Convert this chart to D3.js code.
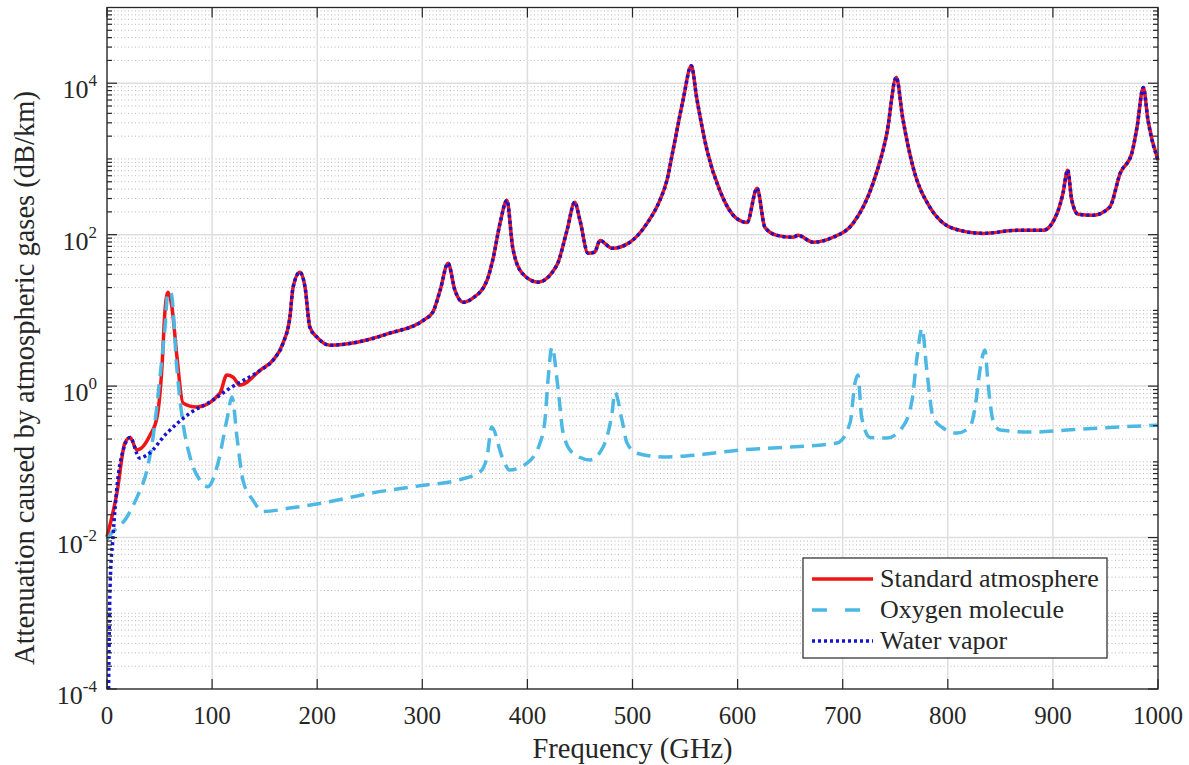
<!DOCTYPE html>
<html>
<head>
<meta charset="utf-8">
<script src="https://cdn.jsdelivr.net/npm/d3@7"></script>
<style>
  body { margin: 0; background: #fff; }
  text { font-family: "Liberation Serif", "Times New Roman", serif; fill: #262626; }
</style>
</head>
<body>
<svg id="chart" width="1189" height="765"></svg>
<script>
// Water vapor (dB/km)
const waterFreq = [1.5, 2.9, 5.7, 9.5, 15.2, 22, 31, 38, 57, 79, 98, 117, 146, 158, 167.5, 174, 177, 183.5, 188.5, 193,
  200, 212, 238, 269, 301, 310, 317, 324.5, 331, 339, 348, 361.6, 367, 374, 380.5, 386, 395, 410, 428, 437.7,
  445, 450, 457.7, 464, 469, 480.5, 497.6, 513.8, 526, 532.8, 538.5, 548, 556, 561, 571, 583, 599, 609, 618.5, 626,
  637.5, 652.7, 657.5, 671.7, 690.8, 709.8, 728.8, 742, 751, 757, 767, 783, 792.6, 805, 833.5, 866, 890.6, 904, 909.6, 914,
  918, 924, 938, 954, 964, 975, 980, 986, 990.5, 1000];
const waterVal = [1e-4, 0.0022, 0.0102, 0.047, 0.14, 0.21, 0.112, 0.123, 0.24, 0.44, 0.62, 0.94, 1.63, 2.2, 3.7, 8.1, 20, 32, 20, 6.0,
  4.4, 3.47, 3.8, 5.0, 7.4, 9.5, 18.5, 42, 18.5, 12.8, 14.5, 25, 46, 142, 284, 68, 31, 23.6, 39.5, 114,
  268, 155, 57, 58.6, 84, 66, 79.5, 141, 284, 525, 1290, 5900, 17000, 6500, 1290, 386, 164, 145, 410, 125,
  98, 92.5, 98, 79.5, 92.5, 141, 475, 2170, 12000, 3540, 775, 230, 155, 121, 104, 114, 114, 192, 353, 710,
  284, 186, 180, 230, 646, 1180, 2600, 8800, 3230, 960];

// Standard atmosphere below 146 GHz (above that it sits on the water vapor curve)
const stdFreq = [0, 9.5, 17, 22, 28.5, 41, 47.6, 52.3, 55, 58, 61.8, 66.6, 72.3, 85.6, 107.5, 114, 120, 126.5];
const stdVal = [0.0102, 0.039, 0.177, 0.21, 0.143, 0.226, 0.39, 1.78, 9.2, 17.4, 11, 2.4, 0.60, 0.53, 0.81, 1.4, 1.31, 1.03];

// Oxygen molecule
const oxFreq = [0, 2.9, 19, 28.5, 38, 43.8, 50.4, 55.2, 58, 61, 66.6, 69.5, 72.3, 79, 88.5, 96, 105.6, 114, 119, 123.7,
  129.4, 139, 148.4, 174, 205.5, 253, 300.7, 333, 355, 361.6, 366, 376, 383, 399.6, 412, 416.7, 419.6, 423.4, 429, 434,
  443.4, 459.6, 472, 480.5, 483.3, 490, 494.8, 504.3, 529, 561, 602, 633.7, 694.6, 707, 711.7, 714.5, 718, 726, 742, 757,
  766, 770.7, 775.5, 780, 786, 795.4, 808.8, 821, 826, 830.6, 835.4, 838, 843, 849.7, 881, 913.4, 944.8, 1000];
const oxVal = [0.0095, 0.0108, 0.0187, 0.034, 0.078, 0.21, 1.31, 6.0, 17.4, 16.8, 1.63, 0.65, 0.325, 0.116, 0.057, 0.047, 0.096, 0.356, 0.72, 0.21,
  0.057, 0.031, 0.022, 0.0245, 0.0287, 0.039, 0.049, 0.057, 0.074, 0.116, 0.288, 0.116, 0.078, 0.096, 0.177, 0.356, 1.2, 3.27, 0.97, 0.24,
  0.13, 0.106, 0.157, 0.44, 0.83, 0.356, 0.177, 0.13, 0.116, 0.123, 0.143, 0.152, 0.177, 0.325, 1.1, 1.4, 0.39, 0.21, 0.206, 0.288,
  0.65, 2.4, 5.8, 1.63, 0.39, 0.28, 0.24, 0.288, 0.53, 1.63, 3.0, 1.2, 0.356, 0.263, 0.247, 0.263, 0.28, 0.305];

const xTicks = [0, 100, 200, 300, 400, 500, 600, 700, 800, 900, 1000];
const yTickExp = [-4, -2, 0, 2, 4];
const legendNames = ['Standard atmosphere', 'Oxygen molecule', 'Water vapor'];

(() => {
  // layout
  const L = 107, R = 1158, T = 7.5, B = 689;
  const svg = d3.select('#chart');

  const x = d3.scaleLinear().domain([0, 1000]).range([L, R]);
  const y = d3.scaleLog().domain([1e-4, 1e5]).range([B, T]);

  const zip = (fs, vs) => fs.map((f, i) => ({ f, v: vs[i] }));
  const water = zip(waterFreq, waterVal);
  const oxygen = zip(oxFreq, oxVal);
  const standard = zip(stdFreq, stdVal).concat(water.filter((d) => d.f >= 146));

  // minor positions
  const minorVals = [];
  for (let k = -4; k <= 4; k++) {
    for (let m = 1; m <= 9; m++) {
      if (m === 1 && yTickExp.includes(k)) continue;
      minorVals.push(m * Math.pow(10, k));
    }
  }

  const grid = svg.append('g');
  grid.selectAll('.minor')
    .data(minorVals)
    .join('line')
    .attr('x1', L).attr('x2', R)
    .attr('y1', (d) => y(d)).attr('y2', (d) => y(d))
    .attr('stroke', '#b8b8b8')
    .attr('stroke-width', 1)
    .attr('stroke-dasharray', '1,2.5');

  grid.selectAll('.majy')
    .data(yTickExp)
    .join('line')
    .attr('x1', L).attr('x2', R)
    .attr('y1', (d) => y(Math.pow(10, d))).attr('y2', (d) => y(Math.pow(10, d)))
    .attr('stroke', '#dedede')
    .attr('stroke-width', 1.5);

  grid.selectAll('.majx')
    .data(xTicks)
    .join('line')
    .attr('x1', (d) => x(d)).attr('x2', (d) => x(d))
    .attr('y1', T).attr('y2', B)
    .attr('stroke', '#dedede')
    .attr('stroke-width', 1.5);

  // curves
  const line = d3.line()
    .x((d) => x(d.f))
    .y((d) => y(d.v))
    .curve(d3.curveMonotoneX);

  const plot = svg.append('g');
  plot.append('path')
    .datum(standard)
    .attr('d', line)
    .attr('fill', 'none')
    .attr('stroke', '#f01414')
    .attr('stroke-width', 3.5)
    .attr('stroke-linejoin', 'round');

  plot.append('path')
    .datum(oxygen)
    .attr('d', line)
    .attr('fill', 'none')
    .attr('stroke', '#4db8e4')
    .attr('stroke-width', 3.5)
    .attr('stroke-dasharray', '14,8');

  plot.append('path')
    .datum(water)
    .attr('d', line)
    .attr('fill', 'none')
    .attr('stroke', '#1414d2')
    .attr('stroke-width', 3.5)
    .attr('stroke-dasharray', '3,3');

  // ticks
  const ticks = svg.append('g').attr('stroke', '#262626').attr('stroke-width', 1.2);
  xTicks.forEach((t) => {
    ticks.append('line').attr('x1', x(t)).attr('x2', x(t)).attr('y1', B).attr('y2', B - 10);
    ticks.append('line').attr('x1', x(t)).attr('x2', x(t)).attr('y1', T).attr('y2', T + 10);
  });
  yTickExp.forEach((e) => {
    const yy = y(Math.pow(10, e));
    ticks.append('line').attr('x1', L).attr('x2', L + 10).attr('y1', yy).attr('y2', yy);
    ticks.append('line').attr('x1', R).attr('x2', R - 10).attr('y1', yy).attr('y2', yy);
  });
  minorVals.forEach((v) => {
    const yy = y(v);
    ticks.append('line').attr('x1', L).attr('x2', L + 5).attr('y1', yy).attr('y2', yy);
    ticks.append('line').attr('x1', R).attr('x2', R - 5).attr('y1', yy).attr('y2', yy);
  });

  // frame
  svg.append('rect')
    .attr('x', L).attr('y', T)
    .attr('width', R - L).attr('height', B - T)
    .attr('fill', 'none')
    .attr('stroke', '#262626')
    .attr('stroke-width', 1.3);

  // tick labels
  svg.append('g').selectAll('text')
    .data(xTicks)
    .join('text')
    .attr('x', (d) => x(d))
    .attr('y', B + 35)
    .attr('text-anchor', 'middle')
    .attr('font-size', 25)
    .text((d) => d);

  const yl = svg.append('g').selectAll('text')
    .data(yTickExp)
    .join('text')
    .attr('x', 97)
    .attr('y', (d) => y(Math.pow(10, d)) + 15)
    .attr('text-anchor', 'end')
    .attr('font-size', 26);
  yl.append('tspan').text('10');
  yl.append('tspan')
    .attr('font-size', 17)
    .attr('dy', -12)
    .text((d) => (d < 0 ? '-' + Math.abs(d) : d));

  // axis labels
  svg.append('text')
    .attr('x', x(500))
    .attr('y', 758)
    .attr('text-anchor', 'middle')
    .attr('font-size', 28.5)
    .text('Frequency (GHz)');

  svg.append('text')
    .attr('transform', 'translate(34, 378) rotate(-90)')
    .attr('text-anchor', 'middle')
    .attr('font-size', 28.5)
    .text('Attenuation caused by atmospheric gases (dB/km)');

  // legend
  const lg = svg.append('g');
  lg.append('rect')
    .attr('x', 803).attr('y', 558)
    .attr('width', 304).attr('height', 100)
    .attr('fill', '#fff')
    .attr('stroke', '#262626')
    .attr('stroke-width', 1.2);

  const legendStyle = [
    { color: '#f01414', dash: null },
    { color: '#4db8e4', dash: '15,18' },
    { color: '#1414d2', dash: '3,3' }
  ];
  legendNames.forEach((name, i) => {
    const yy = 579 + i * 31;
    lg.append('line')
      .attr('x1', 812).attr('x2', 873)
      .attr('y1', yy).attr('y2', yy)
      .attr('stroke', legendStyle[i].color)
      .attr('stroke-width', 3.5)
      .attr('stroke-dasharray', legendStyle[i].dash);
    lg.append('text')
      .attr('x', 880)
      .attr('y', yy + 8)
      .attr('font-size', 26)
      .text(name);
  });
})();
</script>
</body>
</html>
